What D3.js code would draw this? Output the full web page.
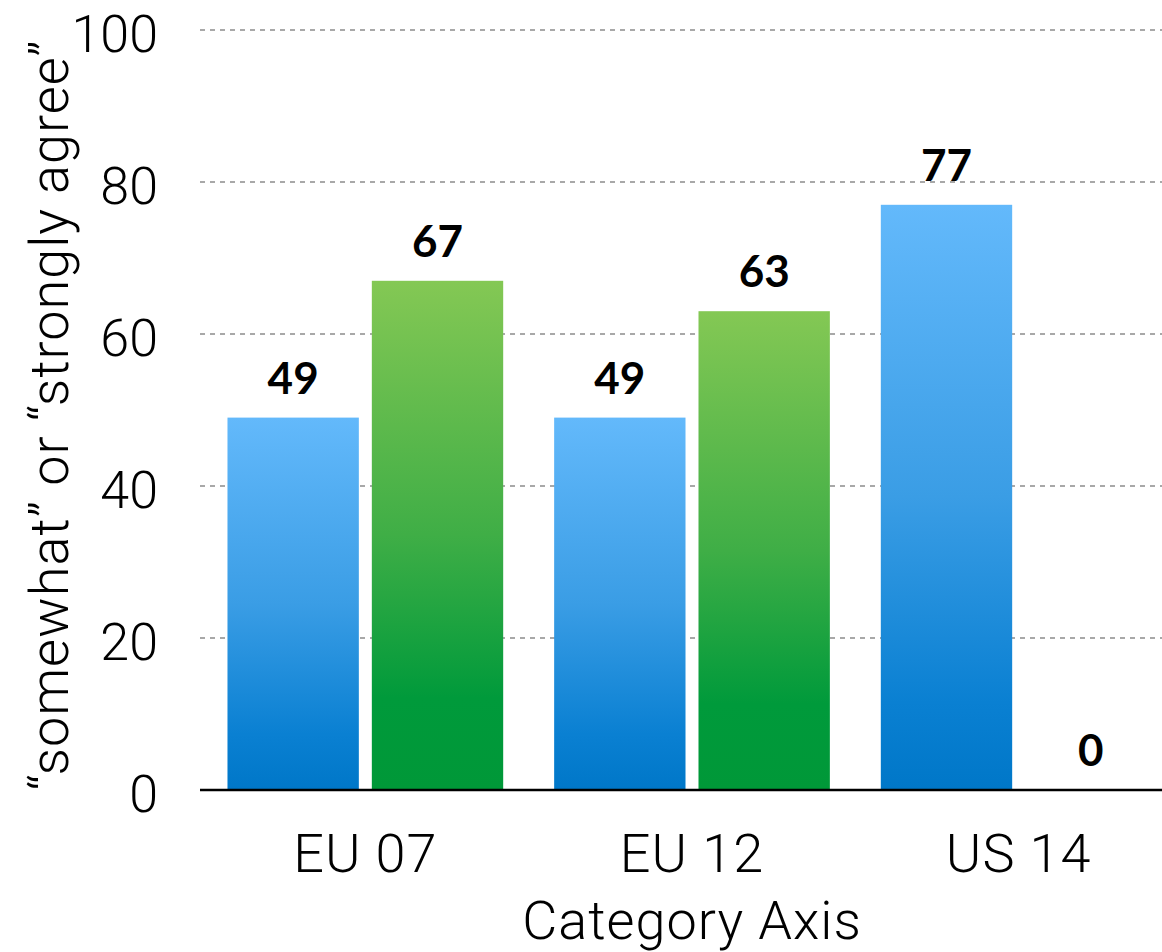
<!DOCTYPE html>
<html>
<head>
<meta charset="utf-8">
<script src="https://cdn.jsdelivr.net/npm/d3@7"></script>
<style>
  html, body { margin: 0; padding: 0; background: #fff; }
  svg { display: block; }
  .light { font-family: "Helvetica Neue", Roboto, "Liberation Sans", sans-serif; font-weight: 300; }
  .val { font-family: Lato, "Open Sans", sans-serif; font-weight: 700; }
</style>
</head>
<body>
<svg id="chart" width="1162" height="952"></svg>
<script>
const categories = ["EU 07", "EU 12", "US 14"];
const seriesNames = ["blue", "green"];
const blueValues = [49, 49, 77];
const greenValues = [67, 63, 0];
const yTicks = [0, 20, 40, 60, 80, 100];
const yLabel = "\u201Csomewhat\u201D or \u201Cstrongly agree\u201D";
const xLabel = "Category Axis";

const rows = categories.map((c, i) => ({ cat: c, blue: blueValues[i], green: greenValues[i] }));

const W = 1162, H = 952;
const svg = d3.select("#chart");

const y = d3.scaleLinear().domain([0, 100]).range([790, 30]);
const x0 = d3.scaleBand().domain(categories).range([202, 1182]).paddingInner(0.156).paddingOuter(0.078);
const x1 = d3.scaleBand().domain(seriesNames).range([0, x0.bandwidth()]).paddingInner(0.09).paddingOuter(0);

const defs = svg.append("defs");
const gradSpecs = {
  blue: [[0, "#63b9fb"], [0.5, "#3a9de5"], [0.85, "#0a80d2"], [1, "#0077c8"]],
  green: [[0, "#84c854"], [0.5, "#3fae46"], [0.82, "#009a3b"], [1, "#009838"]]
};
Object.entries(gradSpecs).forEach(([k, stops]) => {
  const g = defs.append("linearGradient").attr("id", "grad-" + k)
    .attr("x1", 0).attr("y1", 0).attr("x2", 0).attr("y2", 1);
  stops.forEach(s => g.append("stop").attr("offset", s[0]).attr("stop-color", s[1]));
});

// gridlines
svg.append("g").selectAll("line").data(yTicks.filter(d => d > 0)).join("line")
  .attr("x1", 200).attr("x2", W)
  .attr("y1", d => y(d)).attr("y2", d => y(d))
  .attr("stroke", "#a8a8a8").attr("stroke-width", 2).attr("stroke-dasharray", "5,5");

// y tick labels
svg.append("g").attr("class", "light").selectAll("text").data(yTicks).join("text")
  .attr("x", 158).attr("y", d => y(d) + 4).attr("dy", "0.35em")
  .attr("text-anchor", "end").attr("font-size", 52).attr("fill", "#000")
  .text(d => d);

// bars
const groups = svg.append("g").selectAll("g").data(rows).join("g")
  .attr("transform", d => `translate(${x0(d.cat)},0)`);
groups.selectAll("rect").data(d => seriesNames.map(k => ({ key: k, value: d[k] }))).join("rect")
  .attr("x", d => x1(d.key)).attr("width", x1.bandwidth())
  .attr("y", d => y(d.value)).attr("height", d => y(0) - y(d.value))
  .attr("fill", d => `url(#grad-${d.key})`);

// value labels
groups.selectAll("text").data(d => seriesNames.map(k => ({ key: k, value: d[k] }))).join("text")
  .attr("class", "val")
  .attr("x", d => x1(d.key) + x1.bandwidth() / 2)
  .attr("y", d => y(d.value) - 24)
  .attr("text-anchor", "middle").attr("font-size", 44).attr("fill", "#000")
  .text(d => d.value);

// x axis line
svg.append("line").attr("x1", 200).attr("x2", W).attr("y1", y(0)).attr("y2", y(0))
  .attr("stroke", "#000").attr("stroke-width", 2.5);

// category labels
svg.append("g").attr("class", "light").selectAll("text").data(categories).join("text")
  .attr("x", d => x0(d) + x0.bandwidth() / 2).attr("y", 872)
  .attr("text-anchor", "middle").attr("font-size", 54).attr("letter-spacing", 1).attr("fill", "#000")
  .text(d => d);

// axis titles
svg.append("text").attr("class", "light")
  .attr("x", 692).attr("y", 939).attr("text-anchor", "middle")
  .attr("font-size", 54).attr("letter-spacing", 1).attr("fill", "#000").text(xLabel);

svg.append("text").attr("class", "light")
  .attr("transform", "translate(68,415) rotate(-90)")
  .attr("text-anchor", "middle").attr("font-size", 54).attr("letter-spacing", 1).attr("fill", "#000")
  .text(yLabel);
</script>
</body>
</html>
